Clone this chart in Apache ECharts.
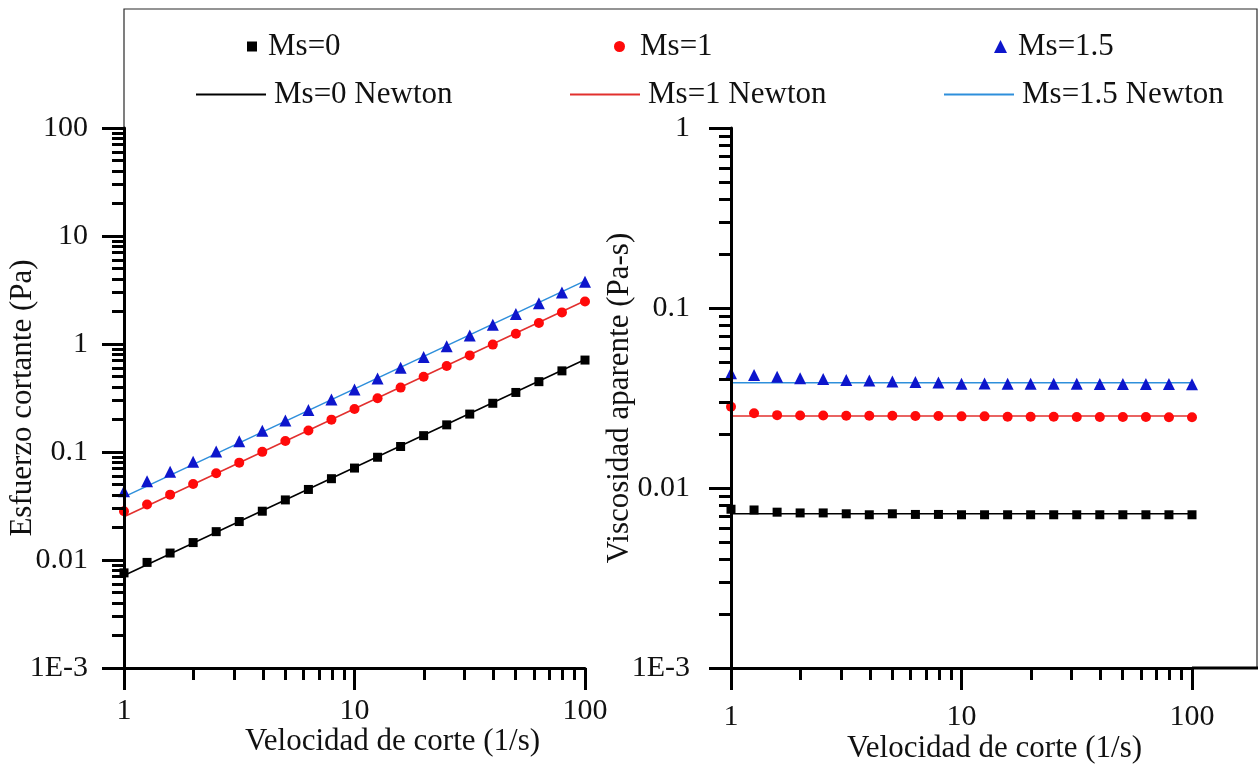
<!DOCTYPE html>
<html>
<head>
<meta charset="utf-8">
<script src="https://cdn.jsdelivr.net/npm/echarts@6/dist/echarts.min.js"></script>
<style>
  html, body { margin: 0; padding: 0; background: #ffffff; }
  #chart { width: 1260px; height: 769px; }
</style>
</head>
<body>
<div id="chart"></div>
<script>
// Shear rate (1/s): ten points per decade
const shearRates = [1, 1.259, 1.585, 1.995, 2.512, 3.162, 3.981, 5.012, 6.31, 7.943, 10,
  12.59, 15.85, 19.95, 25.12, 31.62, 39.81, 50.12, 63.1, 79.43, 100];

// Shear stress (Pa)
const stressMs0 = [0.0076, 0.0095, 0.0116, 0.0145, 0.0183, 0.0227, 0.0283, 0.0360, 0.0450, 0.0566, 0.0710,
  0.0894, 0.1125, 0.1417, 0.1784, 0.2245, 0.2826, 0.3559, 0.4480, 0.5640, 0.710];
const stressMs1 = [0.0283, 0.0327, 0.0403, 0.0505, 0.0636, 0.0797, 0.1003, 0.1263, 0.1584, 0.1994, 0.250,
  0.3148, 0.3947, 0.4968, 0.6255, 0.7842, 0.9873, 1.243, 1.565, 1.962, 2.47];
const stressMs15 = [0.0434, 0.0535, 0.0658, 0.0812, 0.1012, 0.1258, 0.1572, 0.1955, 0.2448, 0.3058, 0.380,
  0.4797, 0.6023, 0.7561, 0.9520, 1.198, 1.505, 1.895, 2.385, 3.002, 3.77];

// Apparent viscosity (Pa-s)
const viscMs0 = [0.00762, 0.00755, 0.00734, 0.00727, 0.00727, 0.00719, 0.00710, 0.00719, 0.00713, 0.00713, 0.00710,
  0.00710, 0.00710, 0.00710, 0.00710, 0.00710, 0.00710, 0.00710, 0.00710, 0.00710, 0.00710];
const viscMs1 = [0.0283, 0.0260, 0.0254, 0.0253, 0.0253, 0.0252, 0.0252, 0.0252, 0.0251, 0.0251, 0.0250,
  0.0250, 0.0249, 0.0249, 0.0249, 0.0248, 0.0248, 0.0248, 0.0248, 0.0247, 0.0247];
const viscMs15 = [0.0434, 0.0425, 0.0415, 0.0407, 0.0403, 0.0398, 0.0395, 0.0390, 0.0388, 0.0385, 0.0380,
  0.0381, 0.0380, 0.0379, 0.0379, 0.0379, 0.0378, 0.0378, 0.0378, 0.0378, 0.0377];

// Newtonian fits, evaluated at the ends of the shear-rate range
const newtonRates = [1, 100];
const newtonStressMs0 = [0.0072, 0.72];
const newtonStressMs1 = [0.0251, 2.51];
const newtonStressMs15 = [0.0384, 3.84];
const newtonViscMs0 = [0.0072, 0.0072];
const newtonViscMs1 = [0.0251, 0.0251];
const newtonViscMs15 = [0.0384, 0.0384];

// Axis decades and their labels
const rateDecades = [1, 10, 100];
const rateTickLabels = ['1', '10', '100'];
const stressDecades = [0.001, 0.01, 0.1, 1, 10, 100];
const stressTickLabels = ['1E-3', '0.01', '0.1', '1', '10', '100'];
const viscDecades = [0.001, 0.01, 0.1, 1];
const viscTickLabels = ['1E-3', '0.01', '0.1', '1'];

const names = {
  s0: 'Ms=0', s1: 'Ms=1', s15: 'Ms=1.5',
  n0: 'Ms=0 Newton', n1: 'Ms=1 Newton', n15: 'Ms=1.5 Newton'
};

const FONT = 'Liberation Serif';
const TICK_FS = 30;
const TITLE_FS = 31;
const LEGEND_FS = 31;
const COL = {
  black: '#000000',
  redMark: '#ff0a0a', redLine: '#e2302e',
  blueMark: '#0d16cc', blueLine: '#2e8fdb',
  frame: '#2a2a2a', text: '#111111'
};

// Plot layout (pixels)
const TOP = 128, BOTTOM = 668;
const L_LEFT = 124, L_RIGHT = 585;
const R_LEFT = 731, R_RIGHT = 1192;
const FRAME_TOP = 9, FRAME_RIGHT = 1257;

// 2..9 subdivisions of every decade between the first and last decade
function minorValues(decades) {
  const out = [];
  for (let i = 0; i < decades.length - 1; i++) {
    for (let k = 2; k <= 9; k++) out.push(+(decades[i] * k).toPrecision(6));
  }
  return out;
}

function labelFor(decades, labels) {
  return function (v) {
    for (let i = 0; i < decades.length; i++) {
      if (Math.abs(Math.log10(v) - Math.log10(decades[i])) < 1e-6) return labels[i];
    }
    return '';
  };
}

const tickText = { fontFamily: FONT, fontSize: TICK_FS, color: COL.text };

function majorX(gridIndex, labelMargin, nameGap, nameShift) {
  return {
    type: 'log', logBase: 10, gridIndex, position: 'bottom', offset: 0, min: 1, max: 100, z: 5,
    name: 'Velocidad de corte (1/s)', nameLocation: 'middle', nameGap, nameMoveOverlap: false,
    nameTextStyle: { fontFamily: FONT, fontSize: TITLE_FS, color: COL.text, padding: [0, 0, 0, 2 * nameShift] },
    axisLine: { show: true, onZero: false, lineStyle: { color: '#000', width: 3 } },
    axisTick: { show: true, inside: false, length: 22, lineStyle: { color: '#000', width: 3 }, customValues: rateDecades },
    axisLabel: { show: true, margin: labelMargin, ...tickText, customValues: rateDecades, formatter: labelFor(rateDecades, rateTickLabels) },
    splitLine: { show: false }, minorTick: { show: false }
  };
}
function minorX(gridIndex) {
  return {
    type: 'log', logBase: 10, gridIndex, position: 'bottom', offset: 0, min: 1, max: 100, z: 5,
    axisLine: { show: false, onZero: false },
    axisTick: { show: true, inside: false, length: 12, lineStyle: { color: '#000', width: 3 }, customValues: minorValues(rateDecades) },
    axisLabel: { show: false }, splitLine: { show: false }
  };
}
function majorY(gridIndex, decades, labels, name, labelMargin, nameGap) {
  return {
    type: 'log', logBase: 10, gridIndex, position: 'left', offset: 0,
    min: decades[0], max: decades[decades.length - 1], z: 5,
    name, nameLocation: 'middle', nameGap, nameMoveOverlap: false,
    nameTextStyle: { fontFamily: FONT, fontSize: TITLE_FS, color: COL.text },
    axisLine: { show: true, onZero: false, lineStyle: { color: '#000', width: 3 } },
    axisTick: { show: true, inside: false, length: 22, lineStyle: { color: '#000', width: 3 }, customValues: decades },
    axisLabel: { show: true, margin: labelMargin, ...tickText, customValues: decades, formatter: labelFor(decades, labels) },
    splitLine: { show: false }, minorTick: { show: false }
  };
}
function minorY(gridIndex, decades) {
  return {
    type: 'log', logBase: 10, gridIndex, position: 'left', offset: 0,
    min: decades[0], max: decades[decades.length - 1], z: 5,
    axisLine: { show: false, onZero: false },
    axisTick: { show: true, inside: false, length: 12, lineStyle: { color: '#000', width: 3 }, customValues: minorValues(decades) },
    axisLabel: { show: false }, splitLine: { show: false }
  };
}

function pairs(xs, ys) { return xs.map((x, i) => [x, ys[i]]); }

function scatter(name, gridIdx, ys, symbol, size, color) {
  return {
    type: 'scatter', name, xAxisIndex: gridIdx, yAxisIndex: gridIdx,
    data: pairs(shearRates, ys), symbol, symbolSize: size,
    itemStyle: { color, opacity: 1 }, z: 3, silent: true
  };
}
function newton(name, gridIdx, ys, color) {
  return {
    type: 'line', name, xAxisIndex: gridIdx, yAxisIndex: gridIdx,
    data: pairs(newtonRates, ys), symbol: 'none', showSymbol: false,
    lineStyle: { color, width: 1.6 }, itemStyle: { color }, z: 2, silent: true
  };
}

// One legend per entry so each can sit in its own column
function markerLegend(name, left, top, size, textPad) {
  return {
    data: [name], left, top, orient: 'horizontal', selectedMode: false,
    itemWidth: size, itemHeight: size, padding: 0,
    textStyle: { fontFamily: FONT, fontSize: LEGEND_FS, color: COL.text, padding: [0, 0, 0, textPad] }
  };
}
function lineLegend(name, left, top) {
  return {
    data: [name], left, top, orient: 'horizontal', selectedMode: false,
    itemWidth: 70, itemHeight: 14, padding: 0,
    itemStyle: { opacity: 0 },
    textStyle: { fontFamily: FONT, fontSize: LEGEND_FS, color: COL.text, padding: [0, 0, 0, 3] }
  };
}

const chart = echarts.init(document.getElementById('chart'), null, { renderer: 'canvas' });

const option = {
  backgroundColor: '#ffffff',
  animation: false,
  grid: [
    { left: L_LEFT, top: TOP, width: L_RIGHT - L_LEFT, height: BOTTOM - TOP, containLabel: false, outerBoundsMode: 'none' },
    { left: R_LEFT, top: TOP, width: R_RIGHT - R_LEFT, height: BOTTOM - TOP, containLabel: false, outerBoundsMode: 'none' }
  ],
  xAxis: [majorX(0, 28, 58, 38), majorX(1, 34, 65, 33), minorX(0), minorX(1)],
  yAxis: [
    majorY(0, stressDecades, stressTickLabels, 'Esfuerzo cortante (Pa)', 36, 86),
    majorY(1, viscDecades, viscTickLabels, 'Viscosidad aparente (Pa-s)', 41, 96),
    minorY(0, stressDecades),
    minorY(1, viscDecades)
  ],
  legend: [
    markerLegend(names.s0, 247, 31, 10, 6),
    markerLegend(names.s1, 614, 31, 11, 10),
    markerLegend(names.s15, 994, 31, 13, 6),
    lineLegend(names.n0, 195, 79),
    lineLegend(names.n1, 569, 79),
    lineLegend(names.n15, 943, 79)
  ],
  series: [
    newton(names.n0, 0, newtonStressMs0, COL.black),
    newton(names.n1, 0, newtonStressMs1, COL.redLine),
    newton(names.n15, 0, newtonStressMs15, COL.blueLine),
    scatter(names.s0, 0, stressMs0, 'rect', 9, COL.black),
    scatter(names.s1, 0, stressMs1, 'circle', 10, COL.redMark),
    scatter(names.s15, 0, stressMs15, 'triangle', 12, COL.blueMark),
    newton(names.n0, 1, newtonViscMs0, COL.black),
    newton(names.n1, 1, newtonViscMs1, COL.redLine),
    newton(names.n15, 1, newtonViscMs15, COL.blueLine),
    scatter(names.s0, 1, viscMs0, 'rect', 9, COL.black),
    scatter(names.s1, 1, viscMs1, 'circle', 10, COL.redMark),
    scatter(names.s15, 1, viscMs15, 'triangle', 12, COL.blueMark)
  ],
  // Outer frame of the figure and the extension of the right-hand baseline
  graphic: [
    { type: 'polyline', silent: true, z: 1,
      shape: { points: [[L_LEFT, TOP], [L_LEFT, FRAME_TOP], [FRAME_RIGHT, FRAME_TOP], [FRAME_RIGHT, BOTTOM]] },
      style: { stroke: COL.frame, lineWidth: 1.2, fill: null } },
    { type: 'line', silent: true, z: 1,
      shape: { x1: R_RIGHT, y1: BOTTOM, x2: FRAME_RIGHT + 1, y2: BOTTOM },
      style: { stroke: '#000', lineWidth: 3 } }
  ]
};

chart.setOption(option);
</script>
</body>
</html>
